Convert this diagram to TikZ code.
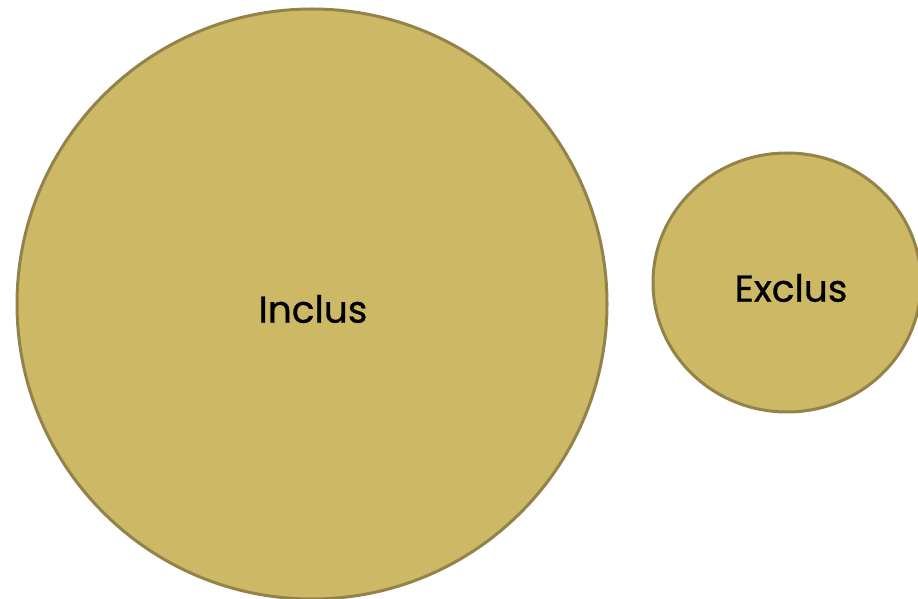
\documentclass[tikz,border=0pt]{standalone}
\usepackage{fontspec}
\setmainfont{Poppins}
\newfontfamily\lblfont{Poppins}[FakeBold=0.8]
\usetikzlibrary{shapes.geometric}
\definecolor{blobfill}{HTML}{CDB865}
\definecolor{blobline}{HTML}{948349}
\tikzset{
  blob/.style={fill=blobfill,draw=blobline,line width=3pt},
  lbl/.style={font=\lblfont\fontsize{37.5}{45}\selectfont,text=black}
}
\begin{document}
\begin{tikzpicture}[x=1pt,y=1pt]
\useasboundingbox (0,0) rectangle (918,598);
\clip (0,0) rectangle (918,598);
\node[blob,circle,minimum size=590pt,inner sep=0pt] (inc) at (312,294) {};
\node[blob,ellipse,minimum width=268pt,minimum height=259pt,inner sep=0pt] (exc) at (787,315.5) {};
\node[lbl] (inctxt) at (313,289) {Inclus};
\node[lbl] (exctxt) at (791,310) {Exclus};
\end{tikzpicture}
\end{document}
